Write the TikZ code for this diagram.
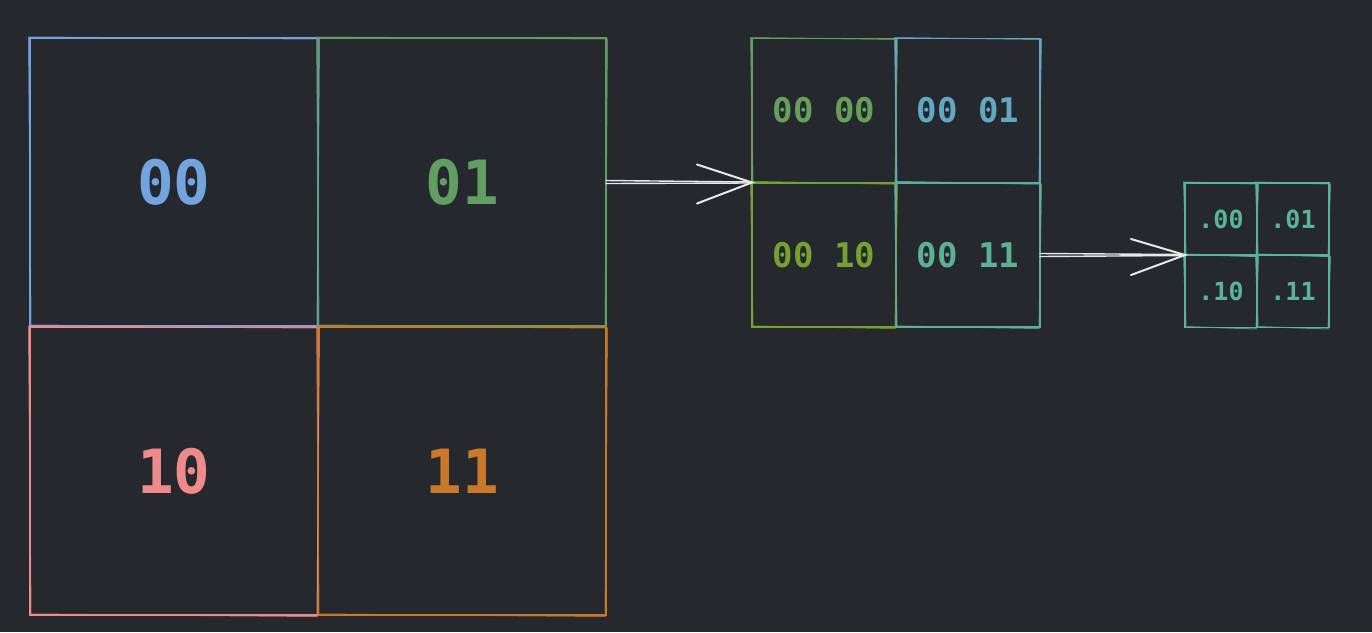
\documentclass[tikz,border=0pt]{standalone}
\usepackage{fontspec}
\usetikzlibrary{calc}
\newfontfamily\monofnt{DejaVu Sans Mono}
\definecolor{bg}{RGB}{37,40,45}
\definecolor{cblue}{RGB}{116,164,224}
\definecolor{cgreen}{RGB}{98,158,98}
\definecolor{cpink}{RGB}{238,138,138}
\definecolor{corange}{RGB}{202,120,42}
\definecolor{mgreen}{RGB}{100,160,92}
\definecolor{mblue}{RGB}{98,168,194}
\definecolor{molive}{RGB}{118,160,48}
\definecolor{mteal}{RGB}{94,176,148}
\definecolor{steal}{RGB}{90,180,150}
\definecolor{arrw}{RGB}{232,232,232}
\tikzset{
  cell/.style={draw, line width=1.7pt, inner sep=0pt, outer sep=0pt},
  bigcell/.style={cell, minimum width=288pt, minimum height=288pt, font=\monofnt\fontsize{61}{61}\selectfont\bfseries},
  midcell/.style={cell, minimum width=144pt, minimum height=144pt, font=\monofnt\fontsize{34}{34}\selectfont\bfseries},
  smallcell/.style={cell, minimum width=72pt, minimum height=72pt, font=\monofnt\fontsize{25}{25}\selectfont\bfseries},
  skline/.style={line width=1pt, opacity=0.75},
  arrline/.style={arrw, line width=1.4pt, line cap=round},
}
\newcommand{\sketchbox}[2]{%
  \draw[#2, skline] ($(#1.north west)+(-1.5,-1)$) -- ($(#1.north east)+(1.5,1)$) -- ($(#1.south east)+(-1,1.5)$) -- ($(#1.south west)+(1,-1)$) -- cycle;}
\begin{document}
\begin{tikzpicture}[x=1pt,y=-1pt]
\fill[bg] (0,0) rectangle (1372,632);
\useasboundingbox (0,0) rectangle (1372,632);
% big grid
\node[bigcell, draw=cblue, text=cblue] (a00) at (174,182) {00};
\node[bigcell, draw=cgreen, text=cgreen] (a01) at (462,182) {01};
\node[bigcell, draw=cpink, text=cpink] (a10) at (174,471) {10};
\node[bigcell, draw=corange, text=corange] (a11) at (462,471) {11};
\sketchbox{a00}{cblue}
\sketchbox{a01}{cgreen}
\sketchbox{a10}{cpink}
\sketchbox{a11}{corange}
% middle grid
\node[midcell, draw=mgreen, text=mgreen] (m00) at (824,110.5) {00 00};
\node[midcell, draw=mblue, text=mblue] (m01) at (968,110.5) {00 01};
\node[midcell, draw=molive, text=molive] (m10) at (824,255) {00 10};
\node[midcell, draw=mteal, text=mteal] (m11) at (968,255) {00 11};
\sketchbox{m00}{mgreen}
\sketchbox{m01}{mblue}
\sketchbox{m10}{molive}
\sketchbox{m11}{mteal}
% small grid
\node[smallcell, draw=steal, text=steal] (s00) at (1221,219) {.00};
\node[smallcell, draw=steal, text=steal] (s01) at (1293,219) {.01};
\node[smallcell, draw=steal, text=steal] (s10) at (1221,291.5) {.10};
\node[smallcell, draw=steal, text=steal] (s11) at (1293,291.5) {.11};
\sketchbox{s00}{steal}
\sketchbox{s01}{steal}
\sketchbox{s10}{steal}
\sketchbox{s11}{steal}
% arrows
\coordinate (t1) at (m00.south west);
\coordinate (t2) at (s00.south west);
\draw[arrline] ($(a01.east)+(0,-1.5)$) -- ($(t1)+(0,-0.5)$);
\draw[arrline] ($(a01.east)+(0,1.5)$) -- ($(t1)+(0,0.5)$);
\draw[arrline, line width=2pt] ($(t1)+(-55,-18)$) -- (t1) -- ($(t1)+(-55,21)$);
\draw[arrline] ($(m11.east)+(0,-1.5)$) -- ($(t2)+(0,-0.5)$);
\draw[arrline] ($(m11.east)+(0,1.5)$) -- ($(t2)+(0,0.5)$);
\draw[arrline, line width=2pt] ($(t2)+(-54,-16)$) -- (t2) -- ($(t2)+(-54,20)$);
\end{tikzpicture}
\end{document}
